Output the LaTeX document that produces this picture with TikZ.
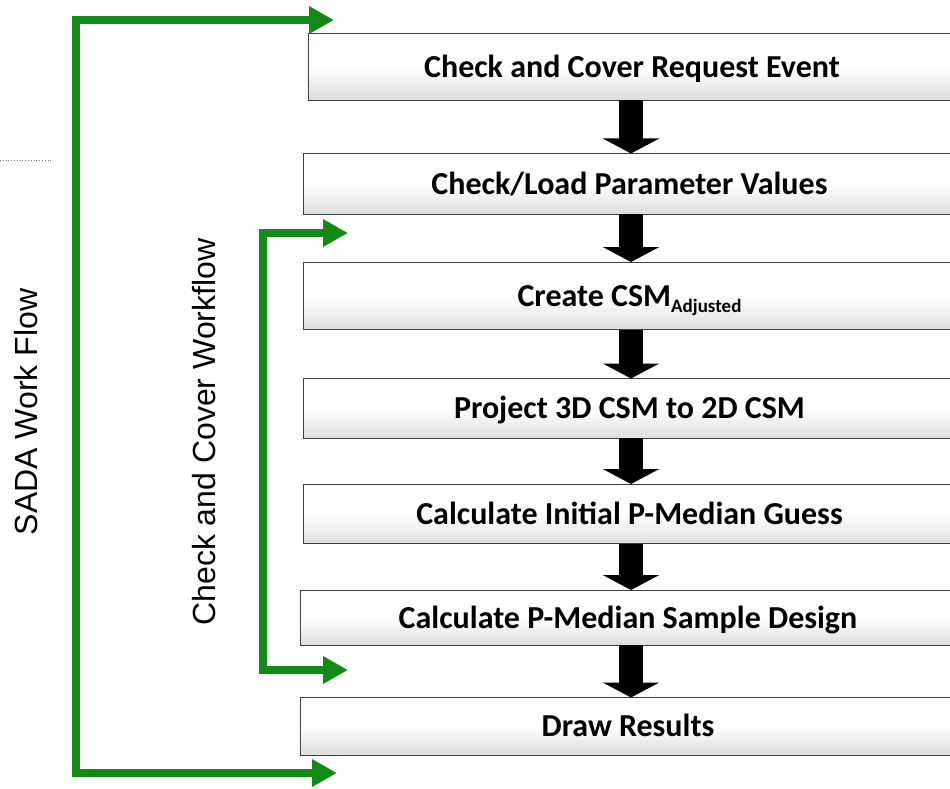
\documentclass[tikz,border=0pt]{standalone}
\usepackage{fontspec}
\setmainfont{Carlito}
\newfontfamily\arialfont{Liberation Sans}
\usetikzlibrary{arrows.meta,calc}
\definecolor{flowgreen}{RGB}{18,138,22}
\tikzset{
  stepbox/.style={draw=black!75, line width=0.9pt, top color=white, bottom color=black!13, middle color=white,
    anchor=north west, inner sep=0pt, outer sep=0pt,
    font=\bfseries\fontsize{32}{32}\selectfont, text height=26pt, text depth=4.8pt},
  flowarrow/.style={line width=24pt, black, -{Triangle[width=56pt,length=15pt]}},
  loopline/.style={line width=8.5pt, flowgreen, {Triangle[width=26pt,length=25pt]}-{Triangle[width=26pt,length=25pt]}},
  sidelabel/.style={rotate=90, anchor=base, inner sep=0pt, font=\arialfont\fontsize{32}{32}\selectfont}
}
\begin{document}
\begin{tikzpicture}[x=1pt,y=-1pt]
\useasboundingbox (0,0) rectangle (950,789);
\clip (0,0) rectangle (950,789);
\fill[white] (0,0) rectangle (950,789);

% boxes
\node[stepbox, minimum width=648pt, minimum height=67pt] (b1) at (308,33.5) {Check and Cover Request Event};
\node[stepbox, minimum width=653pt, minimum height=60.5pt] (b2) at (303,153.5) {Check/Load Parameter Values};
\node[stepbox, minimum width=653pt, minimum height=67.5pt] (b3) at (303,262) {Create CSM\raisebox{-6pt}{\fontsize{19}{19}\selectfont Adjusted}};
\node[stepbox, minimum width=653pt, minimum height=59.5pt] (b4) at (303,378.5) {Project 3D CSM to 2D CSM};
\node[stepbox, minimum width=653pt, minimum height=59.5pt] (b5) at (303,484) {Calculate Initial P-Median Guess};
\node[stepbox, minimum width=656pt, minimum height=55pt] (b6) at (300,590) {Calculate P-Median Sample Design};
\node[stepbox, minimum width=656pt, minimum height=57.5pt] (b7) at (300,697.5) {Draw Results};

% black arrows
\coordinate (ax) at (631,0);
\draw[flowarrow] (ax |- b1.south) -- (ax |- b2.north);
\draw[flowarrow] (ax |- b2.south) -- (ax |- b3.north);
\draw[flowarrow] (ax |- b3.south) -- (ax |- b4.north);
\draw[flowarrow] (ax |- b4.south) -- (ax |- b5.north);
\draw[flowarrow] (ax |- b5.south) -- (ax |- b6.north);
\draw[flowarrow] (ax |- b6.south) -- (ax |- b7.north);

% green loops
\coordinate (otop) at (334,20);
\coordinate (otl) at (76,20);
\coordinate (obl) at (76,773);
\coordinate (obot) at (337,773);
\draw[loopline] (otop) -- (otl) -- (obl) -- (obot);

\coordinate (itop) at (348,233);
\coordinate (itl) at (263,233);
\coordinate (ibl) at (263,670);
\coordinate (ibot) at (348,670);
\draw[loopline] (itop) -- (itl) -- (ibl) -- (ibot);

% side labels
\node[sidelabel] (sada) at (37,412) {SADA Work Flow};
\node[sidelabel] (ccw) at (215,432) {Check and Cover Workflow};

% dotted mark
\coordinate (d1) at (0,160);
\coordinate (d2) at (52,160);
\draw[black!55, line width=0.8pt, dotted] (d1) -- (d2);
\end{tikzpicture}
\end{document}
